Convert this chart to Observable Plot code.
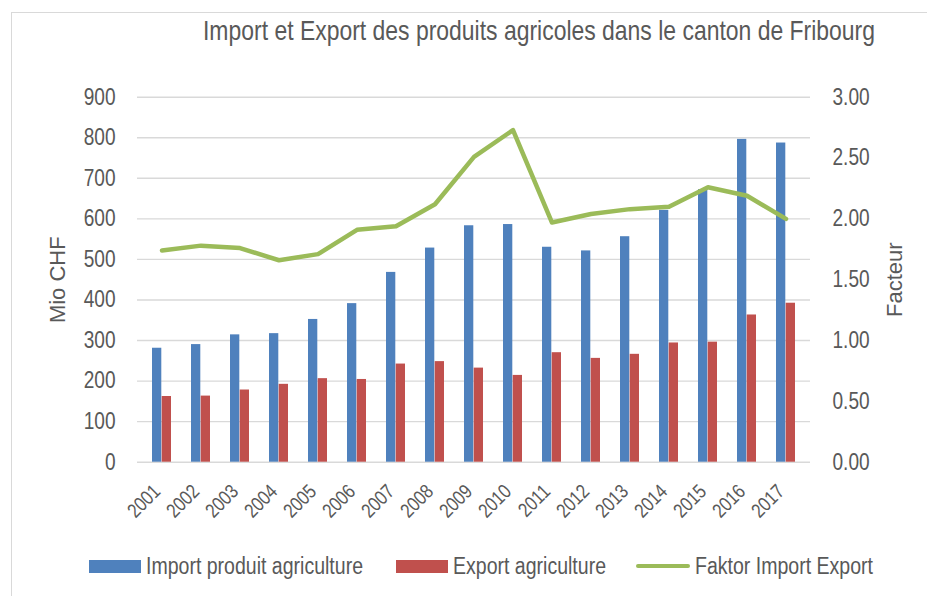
<!DOCTYPE html>
<html>
<head>
<meta charset="utf-8">
<script src="https://cdn.jsdelivr.net/npm/d3@7"></script>
<script src="https://cdn.jsdelivr.net/npm/@observablehq/plot@0.6"></script>
<style>
  html, body { margin: 0; padding: 0; background: #fff; }
  body { width: 927px; height: 596px; position: relative; overflow: hidden;
         font-family: "Liberation Sans", Arial, sans-serif; color: #595959; }
  #frame { position: absolute; left: 11px; top: 12px; width: 940px; height: 600px;
           border-left: 1.5px solid #d9d9d9; border-top: 1.5px solid #d9d9d9; box-sizing: border-box; }
  #title { position: absolute; top: 15px; left: 203px; font-size: 28px; line-height: 32px; color: #595959;
           white-space: nowrap; transform-origin: 0 0; }
  #chart { position: absolute; top: 70px; left: 0; }
  #legend { position: absolute; top: 553px; left: 0; width: 927px; height: 26px; font-size: 23px; color: #595959; }
  .item { position: absolute; top: 0; display: flex; align-items: center; height: 26px; white-space: nowrap; }
  .sw { display: inline-block; width: 52px; height: 13px; margin-right: 5px; flex: none; }
  .ln { display: inline-block; width: 54px; height: 4.5px; border-radius: 3px; margin-right: 5px; flex: none; }
  .txt { display: inline-block; transform-origin: 0 50%; }
</style>
</head>
<body>
<div id="frame"></div>
<div id="title"></div>
<div id="chart"></div>
<div id="legend"></div>
<script>
const years = ["2001","2002","2003","2004","2005","2006","2007","2008","2009","2010","2011","2012","2013","2014","2015","2016","2017"];
const importValues = [281, 290, 314, 317, 352, 391, 468, 528, 583, 586, 530, 521, 556, 621, 672, 796, 787];
const exportValues = [162, 163, 178, 192, 206, 204, 242, 248, 232, 214, 270, 256, 266, 294, 296, 363, 392];
const factorValues = [1.74, 1.78, 1.76, 1.66, 1.71, 1.91, 1.94, 2.12, 2.51, 2.73, 1.97, 2.04, 2.08, 2.10, 2.26, 2.19, 2.00];
const leftTicks = [0, 100, 200, 300, 400, 500, 600, 700, 800, 900];
const rightTicks = [0, 0.5, 1.0, 1.5, 2.0, 2.5, 3.0];
const titleText = "Import et Export des produits agricoles dans le canton de Fribourg";
const yLabel = "Mio CHF";
const y2Label = "Facteur";
const seriesNames = ["Import produit agriculture", "Export agriculture", "Faktor Import Export"];
const colors = ["#4F81BD", "#C0504D", "#9BBB59"];

const ratio = 900 / 3; // right axis 3.00 aligns with left axis 900

const data = years.map((y, i) => ({year: y, imp: importValues[i], exp: exportValues[i], fac: factorValues[i]}));

const W = 927, H = 470;
const mL = 137, mR = 117, mT = 26.7, mB = 78.3;
const padInner = 0.51, padOuter = 0.255;
const step = (W - mL - mR) / (years.length - padInner + 2 * padOuter);
const bw = step * (1 - padInner);
const half = bw / 2;
const narrow = 0.83;

// title, squeezed horizontally like a narrow face
const titleEl = document.getElementById("title");
titleEl.textContent = titleText;
const tw = titleEl.getBoundingClientRect().width;
titleEl.style.transform = `scaleX(${672 / tw})`;

const chart = Plot.plot({
  width: W, height: H,
  marginLeft: mL, marginRight: mR, marginTop: mT, marginBottom: mB,
  style: {fontFamily: '"Liberation Sans", Arial, sans-serif', fontSize: "23px", color: "#595959", background: "transparent"},
  x: {type: "band", domain: years, paddingInner: padInner, paddingOuter: padOuter, label: null},
  y: {domain: [0, 900], label: null},
  marks: [
    Plot.gridY(leftTicks, {stroke: "#d9d9d9", strokeOpacity: 1, strokeWidth: 1.4}),
    Plot.barY(data, {x: "year", y: "imp", fill: colors[0], insetRight: half, insetLeft: 0}),
    Plot.barY(data, {x: "year", y: "exp", fill: colors[1], insetLeft: half, insetRight: 0}),
    Plot.lineY(data, {x: "year", y: d => d.fac * ratio, stroke: colors[2], strokeWidth: 4.5, strokeLinejoin: "round", strokeLinecap: "round"}),
    Plot.axisY(leftTicks, {anchor: "left", tickSize: 0, tickPadding: 22, label: null, fontSize: 23}),
    Plot.axisY(rightTicks.map(t => t * ratio), {anchor: "right", tickSize: 0, tickPadding: 22, label: null, fontSize: 23,
      tickFormat: d => (d / ratio).toFixed(2)}),
    Plot.axisX({tickSize: 0, tickRotate: -45, tickPadding: 26, dx: -5, label: null, fontSize: 20}),
    Plot.text([yLabel], {frameAnchor: "left", dx: -80, rotate: -90, textAnchor: "middle", fontSize: 22, fill: "#595959"}),
    Plot.text([y2Label], {frameAnchor: "right", dx: 84, rotate: -90, textAnchor: "middle", fontSize: 22, fill: "#595959"})
  ]
});

// squeeze tick labels horizontally (narrow face look), keeping their anchor points
chart.querySelectorAll('g[aria-label$="tick label"] text').forEach(t => {
  for (const a of ["x", "dx"]) {
    const v = t.getAttribute(a);
    if (v != null && v !== "" && !isNaN(+v)) t.setAttribute(a, +v / narrow);
  }
  const tr = t.getAttribute("transform") || "";
  t.setAttribute("transform", `${tr} scale(${narrow},1)`.trim());
});
document.getElementById("chart").appendChild(chart);

const legend = document.getElementById("legend");
const positions = [89, 396, 636];
const textWidths = [217, 153, 178];
seriesNames.forEach((name, i) => {
  const it = document.createElement("div");
  it.className = "item";
  it.style.left = positions[i] + "px";
  const sw = document.createElement("span");
  sw.className = i < 2 ? "sw" : "ln";
  sw.style.background = colors[i];
  it.appendChild(sw);
  const tx = document.createElement("span");
  tx.className = "txt";
  tx.textContent = name;
  it.appendChild(tx);
  legend.appendChild(it);
  const w = tx.getBoundingClientRect().width;
  tx.style.transform = `scaleX(${textWidths[i] / w})`;
});
</script>
</body>
</html>
